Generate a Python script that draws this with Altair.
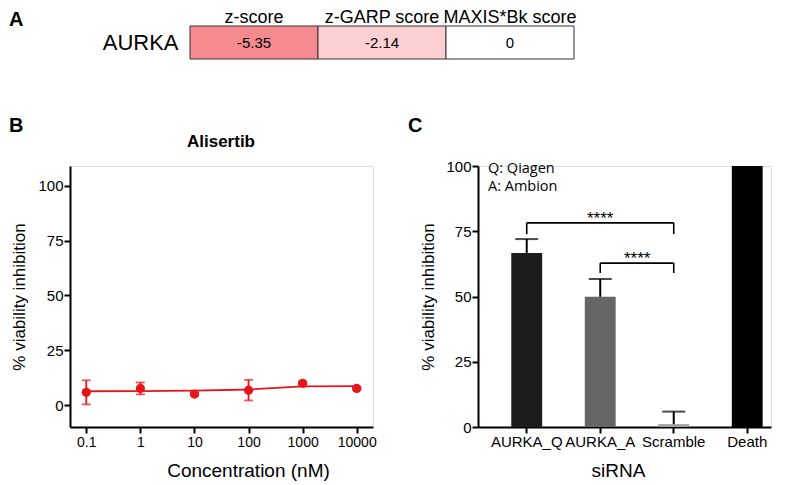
import altair as alt
import pandas as pd

FONT = "Liberation Sans"
RED = "#e8141c"

# ---------------- Panel A data ----------------
score_names = ["z-score", "z-GARP score", "MAXIS*Bk score"]
score_values = [-5.35, -2.14, 0]
score_labels = ["-5.35", "-2.14", "0"]
score_colors = ["#f58a8f", "#fccfd3", "#ffffff"]
gene = "AURKA"

# ---------------- Panel B data ----------------
conc = [0.1, 1, 10, 100, 1000, 10000]
inh_mean = [5.8, 7.6, 5.0, 6.8, 9.9, 7.6]
inh_err = [5.5, 2.7, 0.6, 4.7, 0.8, 0.6]
fit_conc = [0.1, 1, 10, 100, 1000, 10000]
fit_vals = [6.3, 6.4, 6.6, 7.1, 8.5, 8.6]
b_ticks = [0, 25, 50, 75, 100]

# ---------------- Panel C data ----------------
sirna = ["AURKA_Q", "AURKA_A", "Scramble", "Death"]
sirna_mean = [66.7, 49.9, 1.1, 100]
sirna_err = [5.3, 6.8, 4.8, 0]
sirna_colors = ["#1c1c1c", "#666666", "#a0a0a0", "#000000"]
br_from = ["AURKA_Q", "AURKA_A"]
br_to = ["Scramble", "Scramble"]
br_top = [78.2, 62.8]
br_bottom = [73.9, 59.0]
br_text = ["****", "****"]
c_ticks = [0, 25, 50, 75, 100]

axis_style = dict(domainColor="black", domainWidth=2, tickColor="black", tickWidth=2,
                  tickSize=6, labelColor="black", labelFont=FONT, labelFontSize=15,
                  labelPadding=1, grid=False, titleFont=FONT, titleColor="black",
                  titleFontWeight="normal")

# ---------------- Panel A ----------------
dfA = pd.DataFrame({"score": score_names, "value": score_values, "label": score_labels,
                    "color": score_colors, "gene": [gene] * 3})
xScaleA = alt.Scale(domain=score_names, paddingInner=0, paddingOuter=0.46875, align=1)
xA = alt.X("score:N", sort=score_names, scale=xScaleA,
           axis=alt.Axis(orient="top", title=None, ticks=False, domain=False, grid=False,
                         labelAngle=0, labelFontSize=18, labelPadding=0, labelColor="black",
                         labelFont=FONT))
yA = alt.Y("gene:N", scale=alt.Scale(paddingInner=0, paddingOuter=0),
           axis=alt.Axis(title=None, ticks=False, domain=False, grid=False, labelFontSize=22,
                         offset=-120, labelPadding=12, labelColor="black", labelFont=FONT))
rectsA = alt.Chart(dfA).mark_rect(stroke="#333333", strokeWidth=1).encode(
    x=xA, y=yA, color=alt.Color("color:N", scale=None))
textA = alt.Chart(dfA).mark_text(fontSize=15, font=FONT, color="black").encode(
    x=xA, y=yA, text="label:N")
labA = alt.Chart(pd.DataFrame({"t": ["A"]})).mark_text(
    fontSize=20, fontWeight="bold", font=FONT, align="left", baseline="middle", color="black"
).encode(x=alt.value(-61), y=alt.value(-6), text="t:N")
panelA = alt.layer(rectsA, textA, labA).properties(
    width=504, height=33, view=alt.ViewBackground(stroke="transparent", strokeWidth=0))

# ---------------- Panel B ----------------
dfB = pd.DataFrame({"conc": conc, "mean": inh_mean,
                    "lo": [m - e for m, e in zip(inh_mean, inh_err)],
                    "hi": [m + e for m, e in zip(inh_mean, inh_err)]})
dfFit = pd.DataFrame({"conc": fit_conc, "mean": fit_vals})
xB = alt.X("conc:Q", scale=alt.Scale(type="log", domain=[0.05, 20000], nice=False),
           axis=alt.Axis(values=conc, format="~g", title="Concentration (nM)",
                         titleFontSize=19, titleX=178, titleY=43, titleBaseline="middle",
                         **{**axis_style, "labelFontSize": 14, "labelPadding": 2}))
yAx = alt.Axis(values=b_ticks, title="% viability inhibition", titleFontSize=17,
               titleX=-51, titleBaseline="middle", **axis_style)
yScaleB = alt.Scale(domain=[-10, 109], nice=False, zero=False)
lineB = alt.Chart(dfFit).mark_line(color=RED, strokeWidth=1.8).encode(
    x=xB, y=alt.Y("mean:Q", scale=yScaleB, axis=yAx))
ruleB = alt.Chart(dfB).mark_rule(color=RED, strokeWidth=1.8).encode(
    x=xB, y=alt.Y("lo:Q", scale=yScaleB, axis=yAx), y2="hi:Q")
tickHi = alt.Chart(dfB).mark_tick(color=RED, orient="horizontal", size=9, thickness=1.8).encode(
    x=xB, y=alt.Y("hi:Q", scale=yScaleB, axis=yAx))
tickLo = alt.Chart(dfB).mark_tick(color=RED, orient="horizontal", size=9, thickness=1.8).encode(
    x=xB, y=alt.Y("lo:Q", scale=yScaleB, axis=yAx))
ptsB = alt.Chart(dfB).mark_circle(color=RED, size=85, opacity=1).encode(
    x=xB, y=alt.Y("mean:Q", scale=yScaleB, axis=yAx))
labB = alt.Chart(pd.DataFrame({"t": ["B"]})).mark_text(
    fontSize=20, fontWeight="bold", font=FONT, align="left", baseline="middle", color="black"
).encode(x=alt.value(-61), y=alt.value(-40), text="t:N")
titleB = alt.Chart(pd.DataFrame({"t": ["Alisertib"]})).mark_text(
    fontSize=17, fontWeight="bold", font=FONT, align="center", baseline="middle", color="black"
).encode(x=alt.value(151), y=alt.value(-24), text="t:N")
panelB = alt.layer(lineB, ruleB, tickHi, tickLo, ptsB, labB, titleB).properties(width=303, height=261)

# ---------------- Panel C ----------------
def xScaleC():
    return alt.Scale(domain=sirna, paddingInner=0.58, paddingOuter=0.283, align=0.8)

dfC = pd.DataFrame({"sirna": sirna, "mean": sirna_mean, "color": sirna_colors,
                    "top": [m + e for m, e in zip(sirna_mean, sirna_err)], "err": sirna_err})
dfCerr = dfC[dfC["err"] > 0]
xC = alt.X("sirna:N", scale=xScaleC(),
           axis=alt.Axis(labelAngle=0, title="siRNA", titleFontSize=19, titleX=140, titleY=43,
                         titleBaseline="middle", **axis_style))
yScaleC = alt.Scale(domain=[0, 100], nice=False)
yAxC = alt.Axis(values=c_ticks, title="% viability inhibition", titleFontSize=17,
                titleX=-50, titleBaseline="middle", **axis_style)
barsC = alt.Chart(dfC).mark_bar().encode(
    x=xC, y=alt.Y("mean:Q", scale=yScaleC, axis=yAxC), color=alt.Color("color:N", scale=None))
errC = alt.Chart(dfCerr).mark_rule(color="black", strokeWidth=2).encode(
    x=xC, y=alt.Y("mean:Q", scale=yScaleC, axis=yAxC), y2="top:Q")
capC = alt.Chart(dfCerr).mark_tick(color="black", orient="horizontal", size=23, thickness=2).encode(
    x=xC, y=alt.Y("top:Q", scale=yScaleC, axis=yAxC))

dfBr = pd.DataFrame({"sirna": br_from, "b": br_to, "top": br_top, "bottom": br_bottom, "t": br_text})
brH = alt.Chart(dfBr).mark_rule(color="black", strokeWidth=1.6).encode(
    x=xC, x2="b:N", y=alt.Y("top:Q", scale=yScaleC, axis=yAxC))
dfEnds = pd.DataFrame({"sirna": br_from + br_to, "top": br_top + br_top,
                       "bottom": br_bottom + br_bottom})
brV = alt.Chart(dfEnds).mark_rule(color="black", strokeWidth=1.6).encode(
    x=xC, y=alt.Y("top:Q", scale=yScaleC, axis=yAxC), y2="bottom:Q")
# stars: first centred on the middle bar, second half a step right of AURKA_A
dfStar1 = pd.DataFrame({"sirna": ["AURKA_A"], "top": [br_top[0]], "t": [br_text[0]]})
dfStar2 = pd.DataFrame({"sirna": ["AURKA_A"], "top": [br_top[1]], "t": [br_text[1]]})
star1 = alt.Chart(dfStar1).mark_text(fontSize=17, font=FONT, color="black",
                                     baseline="alphabetic", dy=1).encode(
    x=xC, y=alt.Y("top:Q", scale=yScaleC, axis=yAxC), text="t:N")
star2 = alt.Chart(dfStar2).mark_text(fontSize=17, font=FONT, color="black",
                                     baseline="alphabetic", dy=1, dx=37).encode(
    x=xC, y=alt.Y("top:Q", scale=yScaleC, axis=yAxC), text="t:N")
legC1 = alt.Chart(pd.DataFrame({"t": ["Q: Qiagen"]})).mark_text(
    fontSize=14.5, font="Open Sans", align="left", baseline="middle", color="black"
).encode(x=alt.value(10), y=alt.value(3), text="t:N")
legC2 = alt.Chart(pd.DataFrame({"t": ["A: Ambion"]})).mark_text(
    fontSize=14.5, font="Open Sans", align="left", baseline="middle", color="black"
).encode(x=alt.value(10), y=alt.value(21), text="t:N")
labC = alt.Chart(pd.DataFrame({"t": ["C"]})).mark_text(
    fontSize=20, fontWeight="bold", font=FONT, align="left", baseline="middle", color="black"
).encode(x=alt.value(-70), y=alt.value(-40), text="t:N")
panelC = alt.layer(barsC, errC, capC, brH, brV, star1, star2, legC1, legC2, labC).properties(
    width=293, height=261)

chart = alt.vconcat(
    panelA,
    alt.hconcat(panelB, panelC, spacing=30),
    spacing=55,
).properties(padding=0).configure_view(strokeWidth=0, stroke="transparent").configure(font=FONT)

chart.save("out.html", embed_options={"renderer": "svg", "actions": False})
